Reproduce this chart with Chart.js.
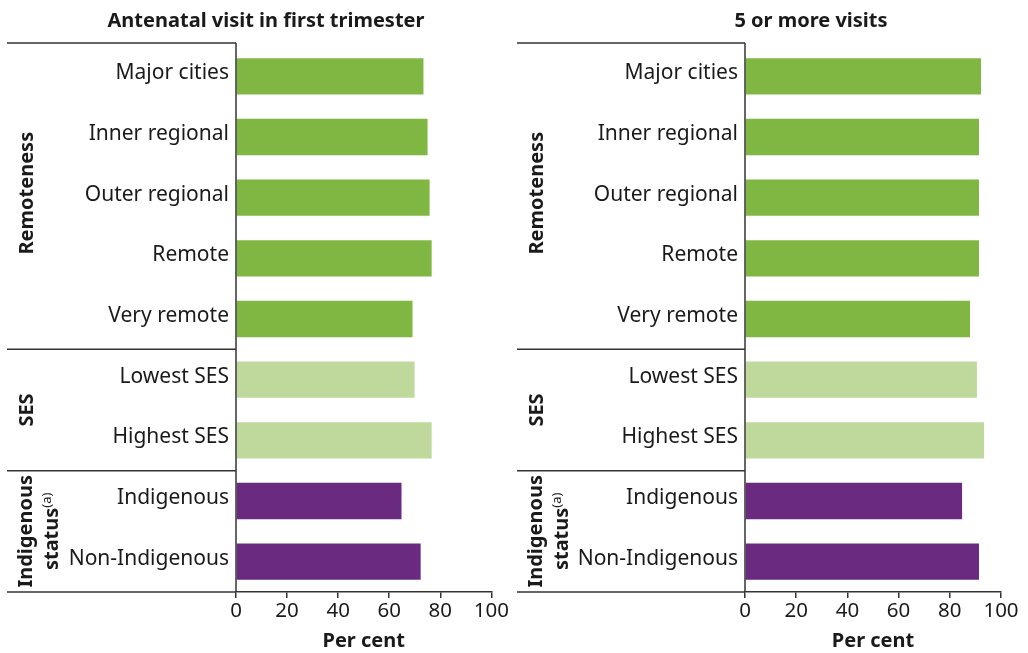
<!DOCTYPE html>
<html>
<head>
<meta charset="utf-8">
<script src="https://cdn.jsdelivr.net/npm/chart.js@4.4.1/dist/chart.umd.min.js"></script>
<style>
  body { margin: 0; background: #fff; }
  .panel { position: absolute; top: 0; height: 653px; }
</style>
</head>
<body>
<div class="panel" style="left:0;width:510px"><canvas id="trimesterChart" width="510" height="653"></canvas></div>
<div class="panel" style="left:510px;width:518px"><canvas id="visitsChart" width="518" height="653"></canvas></div>
<script>
const categories = ['Major cities', 'Inner regional', 'Outer regional', 'Remote', 'Very remote',
    'Lowest SES', 'Highest SES', 'Indigenous', 'Non-Indigenous'];

// per cent of mothers
const firstTrimester = [73.4, 75.0, 75.8, 76.6, 69.1, 69.9, 76.6, 64.8, 72.3];
const fiveOrMoreVisits = [92.2, 91.4, 91.4, 91.4, 87.9, 90.6, 93.4, 84.8, 91.4];

const xTicks = [0, 20, 40, 60, 80, 100];

const groupNames = [['Remoteness'], ['SES'], ['Indigenous', 'status']];
const groupStart = [0, 5, 7];
const groupEnd = [4, 6, 8];

const barColours = ['#80B742', '#80B742', '#80B742', '#80B742', '#80B742',
    '#BFD89B', '#BFD89B', '#6A2A80', '#6A2A80'];

const textColour = '#1a1a1a';
const ruleColour = '#333';
const fontFamily = '"Noto Sans", "Open Sans", sans-serif';

function strokeLine(ctx, x1, y1, x2, y2) {
    ctx.beginPath();
    ctx.moveTo(x1, y1);
    ctx.lineTo(x2, y2);
    ctx.stroke();
}

// draws the panel title, the group frame and the rotated group labels
const groupPlugin = {
    id: 'groupFrame',
    afterDraw(chart, args, opts) {
        const ctx = chart.ctx;
        const area = chart.chartArea;
        const yScale = chart.scales.y;
        const band = yScale.getPixelForValue(1) - yScale.getPixelForValue(0);
        const topY = area.top - 3;

        ctx.save();
        ctx.strokeStyle = ruleColour;
        ctx.lineWidth = 1.5;
        strokeLine(ctx, 7, topY, area.left, topY);
        strokeLine(ctx, area.left, topY, area.left, area.bottom);
        strokeLine(ctx, 7, area.bottom, area.left, area.bottom);
        groupEnd.slice(0, -1).forEach(i => {
            const y = yScale.getPixelForValue(i) + band / 2;
            strokeLine(ctx, 7, y, area.left, y);
        });

        ctx.fillStyle = textColour;
        ctx.textAlign = 'center';
        ctx.textBaseline = 'alphabetic';
        ctx.font = 'bold 20px ' + fontFamily;
        ctx.fillText(opts.title, opts.titleX, 27);

        groupNames.forEach((lines, g) => {
            const y0 = g === 0 ? topY : yScale.getPixelForValue(groupStart[g]) - band / 2;
            const y1 = yScale.getPixelForValue(groupEnd[g]) + band / 2;
            const cy = (y0 + y1) / 2 - (g === 0 ? 3 : 0);
            const startX = lines.length > 1 ? 32 : 33;
            lines.forEach((text, k) => {
                ctx.save();
                ctx.translate(startX + k * 26, cy);
                ctx.rotate(-Math.PI / 2);
                ctx.font = 'bold 20px ' + fontFamily;
                if (g === 2 && k === 1) {
                    const w = ctx.measureText(text).width;
                    ctx.font = '13px ' + fontFamily;
                    const sw = ctx.measureText('(a)').width;
                    ctx.textAlign = 'left';
                    ctx.font = 'bold 20px ' + fontFamily;
                    ctx.fillText(text, -(w + sw) / 2, 0);
                    ctx.font = '13px ' + fontFamily;
                    ctx.fillText('(a)', -(w + sw) / 2 + w, -7);
                } else {
                    ctx.fillText(text, 0, 0);
                }
                ctx.restore();
            });
        });
        ctx.restore();
    }
};

function makeChart(canvasId, values, title, titleX, rightPad, axisWidth) {
    return new Chart(document.getElementById(canvasId), {
        type: 'bar',
        data: {
            labels: categories,
            datasets: [{
                data: values,
                backgroundColor: barColours,
                categoryPercentage: 1,
                barPercentage: 0.6
            }]
        },
        options: {
            indexAxis: 'y',
            responsive: false,
            animation: false,
            devicePixelRatio: 1,
            layout: { padding: { top: 46, right: rightPad, bottom: 0, left: 0 } },
            plugins: {
                legend: { display: false },
                tooltip: { enabled: false },
                groupFrame: { title: title, titleX: titleX }
            },
            scales: {
                x: {
                    min: 0,
                    max: 100,
                    afterBuildTicks: scale => { scale.ticks = xTicks.map(v => ({ value: v })); },
                    afterFit: scale => { scale.height = 61; },
                    grid: { drawOnChartArea: false, drawTicks: true, tickLength: 6, color: ruleColour, lineWidth: 1.5 },
                    border: { display: true, color: ruleColour, width: 1.5 },
                    ticks: { color: textColour, padding: 1, font: { family: fontFamily, size: 20.5 } },
                    title: {
                        display: true,
                        text: 'Per cent',
                        color: textColour,
                        padding: { top: 0, bottom: 0 },
                        font: { family: fontFamily, size: 20, weight: 'bold' }
                    }
                },
                y: {
                    afterFit: scale => { scale.width = axisWidth; },
                    grid: { display: false, drawTicks: false },
                    border: { display: false },
                    ticks: { color: textColour, padding: 7, labelOffset: -3, font: { family: fontFamily, size: 21 } }
                }
            }
        },
        plugins: [groupPlugin]
    });
}

makeChart('trimesterChart', firstTrimester, 'Antenatal visit in first trimester', 266, 18, 236);
makeChart('visitsChart', fiveOrMoreVisits, '5 or more visits', 301, 27, 235);
</script>
</body>
</html>
